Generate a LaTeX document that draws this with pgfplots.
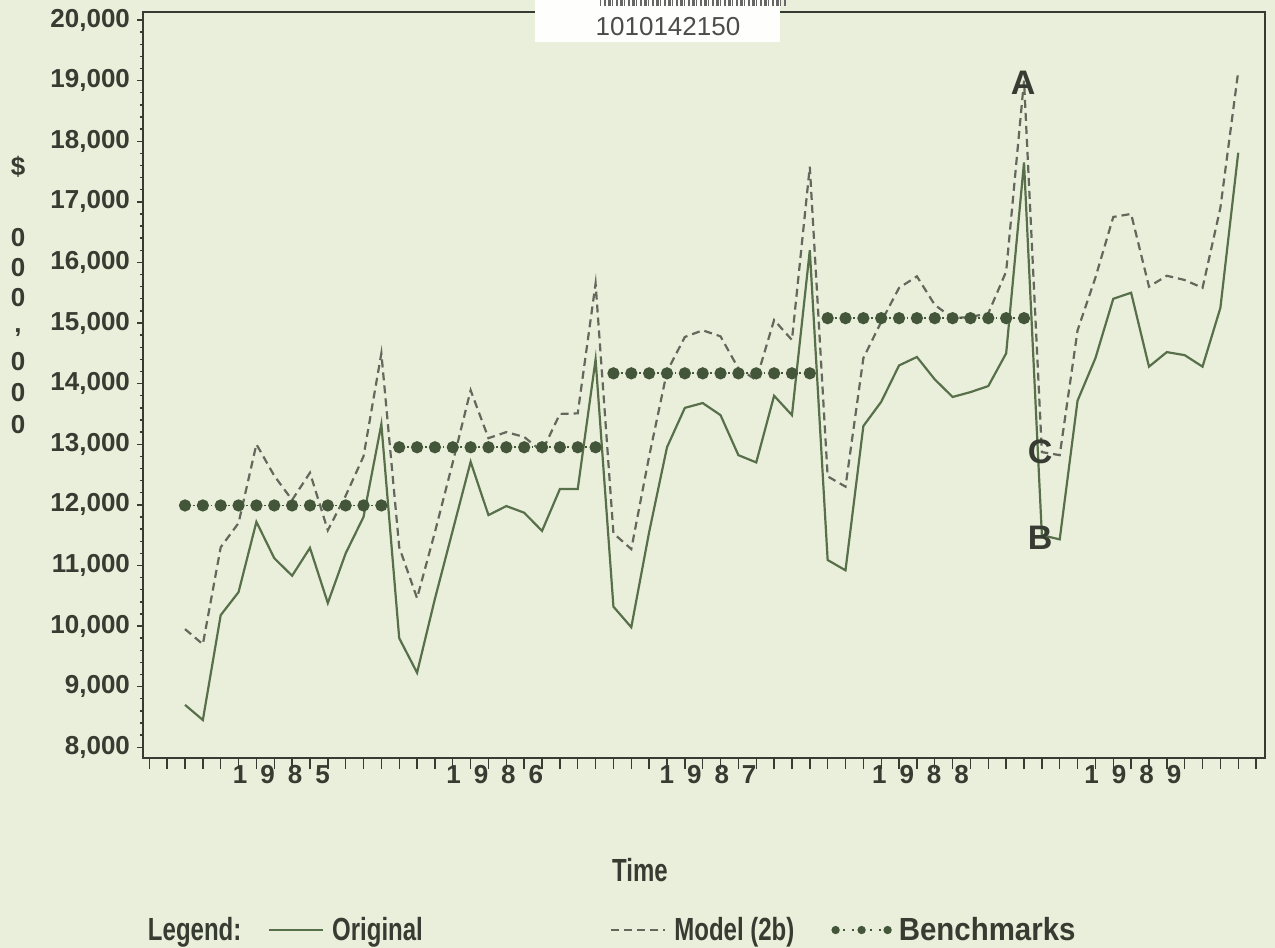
\documentclass[border=0pt]{standalone}
\usepackage{pgfplots}
\pgfplotsset{compat=1.18}
\usepackage{pgfplotstable}
\usepackage{graphicx}
\usepackage{fontspec}
\setmainfont{Liberation Sans}
\definecolor{paper}{RGB}{234,239,219}
\definecolor{solidc}{RGB}{88,112,74}
\definecolor{dashc}{RGB}{98,104,92}
\definecolor{dotc}{RGB}{68,86,58}
\definecolor{txt}{RGB}{55,60,50}

\pgfplotsset{
  lineimg/.style={legend image code/.code={\draw[##1] (0pt,0pt) -- (27pt,0pt);}},
  dotimg/.style={legend image code/.code={\draw[##1, mark size=1.6pt] plot coordinates {(0pt,0pt) (13pt,0pt) (26pt,0pt)};}},
}

\pgfplotstableread{
x y
0 8700
1 8450
2 10180
3 10560
4 11720
5 11120
6 10830
7 11290
8 10380
9 11200
10 11800
11 13330
12 9800
13 9230
14 10450
15 11580
16 12710
17 11830
18 11980
19 11870
20 11570
21 12260
22 12260
23 14400
24 10320
25 9980
26 11550
27 12950
28 13600
29 13680
30 13480
31 12820
32 12700
33 13800
34 13480
35 16200
36 11090
37 10920
38 13300
39 13700
40 14300
41 14440
42 14070
43 13780
44 13860
45 13960
46 14500
47 17650
48 11500
49 11430
50 13720
51 14420
52 15400
53 15500
54 14280
55 14520
56 14470
57 14280
58 15250
59 17810
}\original

\pgfplotstableread{
x y
0 9950
1 9700
2 11300
3 11700
4 13000
5 12480
6 12080
7 12530
8 11580
9 12150
10 12800
11 14500
12 11300
13 10460
14 11550
15 12700
16 13890
17 13100
18 13200
19 13120
20 12880
21 13500
22 13510
23 15650
24 11530
25 11270
26 12800
27 14200
28 14770
29 14880
30 14780
31 14250
32 14060
33 15050
34 14720
35 17580
36 12470
37 12300
38 14420
39 15020
40 15580
41 15770
42 15300
43 15080
44 15100
45 15160
46 15850
47 19000
48 12870
49 12820
50 14880
51 15750
52 16750
53 16800
54 15600
55 15780
56 15710
57 15580
58 16900
59 19150
}\model

\pgfplotstableread{
x y
0 11990
1 11990
2 11990
3 11990
4 11990
5 11990
6 11990
7 11990
8 11990
9 11990
10 11990
11 11990
11.5 nan
12 12950
13 12950
14 12950
15 12950
16 12950
17 12950
18 12950
19 12950
20 12950
21 12950
22 12950
23 12950
23.5 nan
24 14170
25 14170
26 14170
27 14170
28 14170
29 14170
30 14170
31 14170
32 14170
33 14170
34 14170
35 14170
35.5 nan
36 15080
37 15080
38 15080
39 15080
40 15080
41 15080
42 15080
43 15080
44 15080
45 15080
46 15080
47 15080
}\bench

\newcommand{\lgd}[1]{\scalebox{0.75}[1]{#1}}
\newcommand{\yr}[4]{#1\hspace{6.5pt}#2\hspace{6.5pt}#3\hspace{6.5pt}#4}
\begin{document}
\begin{tikzpicture}[x=0.5pt,y=0.5pt]
\fill[paper] (0,0) rectangle (1275,948);
\useasboundingbox (0,0) rectangle (1275,948);
\begin{axis}[
  at={(71.5pt,95pt)}, anchor=south west,
  scale only axis, width=561pt, height=373pt,
  xmin=-2.353, xmax=60.5, ymin=7823, ymax=20132,
  clip mode=individual,
  axis line style={txt, line width=0.8pt},
  every tick/.style={txt, line width=0.7pt},
  xtick={-2,...,60}, xticklabels={},
  ytick={8000,9000,...,20000},
  minor y tick num=4,
  tick align=outside, tick pos=left,
  major tick length=3pt, minor tick length=1.6pt,
  major x tick style={/pgfplots/major tick length=5.5pt},
  scaled y ticks=false,
  /pgf/number format/assume math mode=true,
  /pgf/number format/1000 sep={,},
  yticklabel style={font=\bfseries\fontsize{13}{15}\selectfont, text=txt},
  legend columns=-1,
  legend style={at={(0.00446,-0.2306)}, anchor=west, draw=none, fill=none,
    inner sep=0pt, outer sep=0pt, nodes={inner sep=0pt},
    font=\bfseries\fontsize{16}{18}\selectfont, text=txt,
    cells={anchor=west}},
  unbounded coords=jump,
]
\addlegendimage{empty legend}
\addlegendentry{\makebox[60pt][l]{\lgd{Legend:}}}
\addplot[solidc, line width=1.1pt, lineimg] table[x=x,y=y] {\original};
\addlegendentry{\makebox[143pt][l]{\hspace{4pt}\lgd{Original}}}
\addplot[dashc, line width=1.1pt, dash pattern=on 4pt off 2.5pt, lineimg] table[x=x,y=y] {\model};
\addlegendentry{\makebox[83pt][l]{\hspace{4pt}\lgd{Model (2b)}}}
\addplot[dotc, line width=0.9pt, dash pattern=on 0.9pt off 3.55pt, dash phase=-3.9pt,
  mark=*, mark size=2.6pt, mark options={solid, fill=dotc, draw=dotc}, dotimg] table[x=x,y=y] {\bench};
\addlegendentry{\hspace{4pt}\scalebox{0.92}[1]{Benchmarks}}

\begin{scope}[every node/.style={inner sep=0pt, anchor=center, yshift=-8.5pt, text=txt,
    font=\bfseries\fontsize{13}{15}\selectfont}]
\node at (axis cs:5.4,7823) {\yr1985};
\node at (axis cs:17.35,7823) {\yr1986};
\node at (axis cs:29.3,7823) {\yr1987};
\node at (axis cs:41.2,7823) {\yr1988};
\node at (axis cs:53.1,7823) {\yr1989};
\end{scope}
\node[text=txt, font=\bfseries\fontsize{17}{19}\selectfont, inner sep=0pt] at (axis cs:46.95,18960) {A};
\node[text=txt, font=\bfseries\fontsize{17}{19}\selectfont, inner sep=0pt] at (axis cs:47.9,12872) {C};
\node[text=txt, font=\bfseries\fontsize{17}{19}\selectfont, inner sep=0pt] at (axis cs:47.9,11453) {B};
\end{axis}

% y label stack
\begin{scope}[every node/.style={text=txt, font=\bfseries\fontsize{13}{15}\selectfont, inner sep=0pt}]
\node at (18,781) {\$};
\node at (18,710) {0};
\node at (18,680) {0};
\node at (18,650) {0};
\node at (18,615) {,};
\node at (18,586) {0};
\node at (18,555) {0};
\node at (18,523) {0};
\end{scope}

\node[text=txt, font=\bfseries\fontsize{16}{18}\selectfont, inner sep=0pt] at (640,78) {\lgd{Time}};

% barcode sticker
\fill[white!96!paper] (535,906) rectangle (780,948);
\foreach \i in {0,...,46}{
  \pgfmathsetmacro{\w}{mod(\i*7,3)+1}
  \fill[black!60] (600+4*\i,942) rectangle +(\w,6);
}
\node[text=black!70, font=\fontsize{13}{15}\selectfont, inner sep=0pt] at (668,921) {1010142150};
\end{tikzpicture}
\end{document}
